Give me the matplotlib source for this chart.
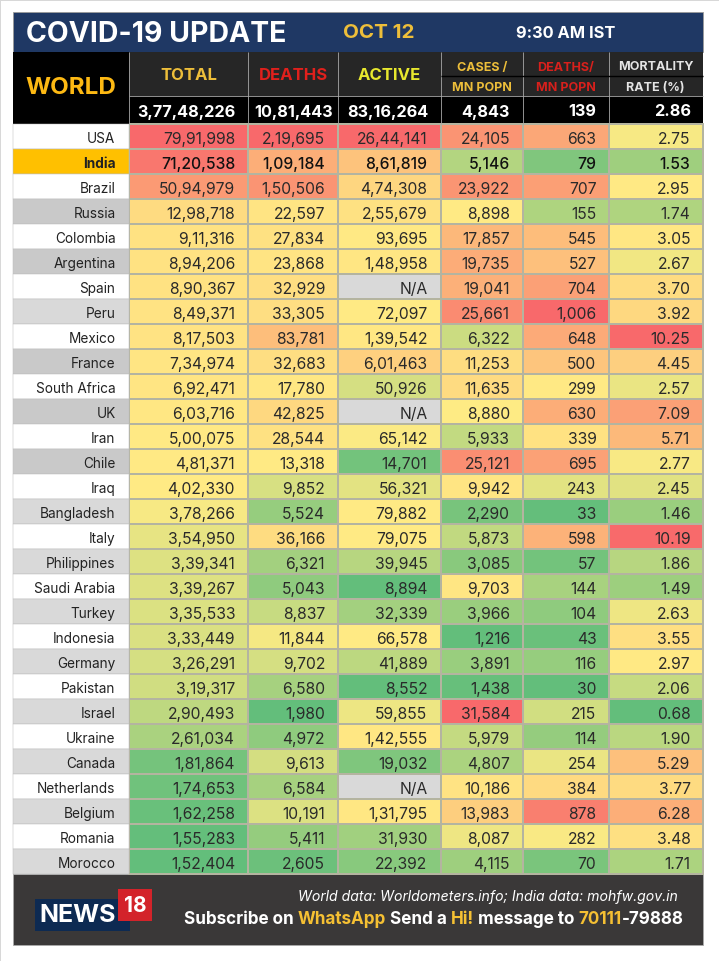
import numpy as np
import matplotlib
matplotlib.use("Agg")
import matplotlib.pyplot as plt
from matplotlib.colors import LinearSegmentedColormap, TwoSlopeNorm
from matplotlib.patches import Rectangle

countries = ["USA","India","Brazil","Russia","Colombia","Argentina","Spain","Peru","Mexico","France",
             "South Africa","UK","Iran","Chile","Iraq","Bangladesh","Italy","Philippines","Saudi Arabia",
             "Turkey","Indonesia","Germany","Pakistan","Israel","Ukraine","Canada","Netherlands","Belgium",
             "Romania","Morocco"]
total = [7991998,7120538,5094979,1298718,911316,894206,890367,849371,817503,734974,692471,603716,500075,
         481371,402330,378266,354950,339341,339267,335533,333449,326291,319317,290493,261034,181864,174653,
         162258,155283,152404]
deaths = [219695,109184,150506,22597,27834,23868,32929,33305,83781,32683,17780,42825,28544,13318,9852,5524,
          36166,6321,5043,8837,11844,9702,6580,1980,4972,9613,6584,10191,5411,2605]
active = [2644141,861819,474308,255679,93695,148958,None,72097,139542,601463,50926,None,65142,14701,56321,
          79882,79075,39945,8894,32339,66578,41889,8552,59855,142555,19032,None,131795,31930,22392]
cases_mn = [24105,5146,23922,8898,17857,19735,19041,25661,6322,11253,11635,8880,5933,25121,9942,2290,5873,
            3085,9703,3966,1216,3891,1438,31584,5979,4807,10186,13983,8087,4115]
deaths_mn = [663,79,707,155,545,527,704,1006,648,500,299,630,339,695,243,33,598,57,144,104,43,116,30,215,114,
             254,384,878,282,70]
mortality = [2.75,1.53,2.95,1.74,3.05,2.67,3.70,3.92,10.25,4.45,2.57,7.09,5.71,2.77,2.45,1.46,10.19,1.86,1.49,
             2.63,3.55,2.97,2.06,0.68,1.90,5.29,3.77,6.28,3.48,1.71]
world_totals = ["3,77,48,226","10,81,443","83,16,264","4,843","139","2.86"]
header_single = ["TOTAL","DEATHS","ACTIVE"]
header_double = [("CASES /","MN POPN"),("DEATHS/","MN POPN"),("MORTALITY","RATE (%)")]
label_shades = ["#FFFFFF","#FFC000","#FFFFFF","#C9C9C9","#FFFFFF","#C9C9C9","#FFFFFF","#D9D9D9","#FFFFFF","#C9C9C9",
                "#FFFFFF","#C9C9C9","#FFFFFF","#C9C9C9","#FFFFFF","#D9D9D9","#FFFFFF","#D9D9D9","#FFFFFF","#D9D9D9",
                "#FFFFFF","#D9D9D9","#FFFFFF","#D9D9D9","#FFFFFF","#D9D9D9","#FFFFFF","#D9D9D9","#FFFFFF","#D9D9D9"]

FONT = ["Inter", "DejaVu Sans"]
plt.rcParams["font.family"] = FONT

W, H = 719, 962
fig = plt.figure(figsize=(W/100, H/100), dpi=100, facecolor="white")
ax = fig.add_axes([0, 0, 1, 1])
ax.set_xlim(0, W); ax.set_ylim(H, 0); ax.axis("off")

col_edges = np.array([129, 248, 338, 441, 522.5, 608.5, 703])
left = 12.5
row_top, row_h = 125.3, 25.0
row_edges = row_top + row_h*np.arange(len(countries)+1)
bottom = row_edges[-1]
grid_c = "#B4B4A0"

# faint image edge
ax.add_patch(Rectangle((0,0), W, 1.5, color="#D8D8D8", lw=0))
ax.add_patch(Rectangle((0,0), 1.2, H, color="#D8D8D8", lw=0))

# heat cells: one three-colour scale per column, centred on the column median
columns = [total, deaths, active, cases_mn, deaths_mn, mortality]
cmap = LinearSegmentedColormap.from_list("rg", ["#63BE7B", "#FFEB84", "#F8696B"])
cmap.set_bad("#D9D9D9")
mat = []
for c in columns:
    v = np.array([np.nan if x is None else x for x in c], float)
    n = TwoSlopeNorm(vmin=np.nanmin(v), vcenter=np.nanmedian(v), vmax=np.nanmax(v))
    mat.append(np.ma.masked_invalid(n(np.ma.masked_invalid(v)).filled(np.nan)))
mat = np.ma.array(mat).T
ax.pcolormesh(col_edges, row_edges, mat, cmap=cmap, vmin=0, vmax=1, edgecolors=grid_c, linewidth=0.35, zorder=2)

def indian(n):
    s = str(n)
    if len(s) <= 3:
        return s
    head, tail = s[:-3], s[-3:]
    parts = []
    while len(head) > 2:
        parts.insert(0, head[-2:]); head = head[:-2]
    if head:
        parts.insert(0, head)
    return ",".join(parts + [tail])

text_right = [235, 325, 427.5, 510, 596.5, 690.5]
for i, name in enumerate(countries):
    y0 = row_edges[i]
    ax.add_patch(Rectangle((left, y0), col_edges[0]-left, row_h, fc=label_shades[i], ec="#BDBDBD", lw=0.35, zorder=2))
    strong = name == "India"
    ax.text(115.5, y0+row_h/2, name, ha="right", va="center_baseline", fontsize=9.8, color="#222222",
            fontweight="bold" if strong else "normal", zorder=3)
    for j, c in enumerate(columns):
        val = c[i]
        if val is None:
            s = "N/A"
        elif j == 5:
            s = f"{val:.2f}"
        else:
            s = indian(val)
        ax.text(text_right[j], y0+row_h/2+0.5, s, ha="right", va="center_baseline", fontsize=11.3,
                color="#111111" if strong else "#2A2A2A", fontweight="medium" if strong else "normal", zorder=3)

# title band
ax.add_patch(Rectangle((left, 12.7), 703-left, 40.6, fc="#1F3864", ec="#9A9A9A", lw=0.6, zorder=1))
ax.text(26, 34, "COVID-19 UPDATE", color="white", fontsize=20.5, fontweight="bold", va="center", ha="left")
ax.text(343, 33, "OCT 12", color="#EDBE3A", fontsize=14.8, fontweight="bold", va="center", ha="left")
ax.text(516, 34, "9:30 AM IST", color="white", fontsize=11.8, fontweight="bold", va="center", ha="left")

# header blocks
head_top, head_mid, head_bot = 53.3, 97.3, row_top
ax.add_patch(Rectangle((left, head_top), col_edges[0]-left, head_bot-head_top, fc="black", lw=0, zorder=1))
ax.add_patch(Rectangle((col_edges[0], head_top), 703-col_edges[0], head_mid-head_top, fc="#262626", lw=0, zorder=1))
ax.add_patch(Rectangle((col_edges[0], head_mid), 703-col_edges[0], head_bot-head_mid, fc="black", lw=0, zorder=1))
ax.vlines(col_edges[:-1], head_top, head_bot, color="#A8A8A8", lw=0.6, zorder=2)
ax.hlines(head_mid, col_edges[0], 703, color="#A8A8A8", lw=0.6, zorder=2)
ax.hlines(77.3, col_edges[3], 703, color="black", lw=1, zorder=2)
ax.text(71, 88, "WORLD", color="#FDB913", fontsize=17.4, fontweight="bold", ha="center", va="center")

single_colors = ["#EDBE3A", "#E0201C", "#E8E82E"]
for j, (t, cl) in enumerate(zip(header_single, single_colors)):
    ax.text((col_edges[j]+col_edges[j+1])/2, 75.5, t, color=cl, fontsize=12, fontweight="bold", ha="center", va="center")
double_colors = ["#EDBE3A", "#D8201C", "#E4E4E4"]
for j, ((a, b), cl) in enumerate(zip(header_double, double_colors)):
    cx = (col_edges[j+3]+col_edges[j+4])/2
    ax.text(cx, 67.5, a, color=cl, fontsize=9, fontweight="bold", ha="center", va="center")
    ax.text(cx, 88, b, color=cl, fontsize=9, fontweight="bold", ha="center", va="center")
total_right = [235, 333, 428, 510, 596.5, 691]
for j, s in enumerate(world_totals):
    ax.text(total_right[j], 112, s, color="white", fontsize=11.7, fontweight="bold", ha="right", va="center")

# footer
foot_top, foot_bot = bottom, 946.3
ax.add_patch(Rectangle((left, foot_top), 703-left, foot_bot-foot_top, fc="#3A3838", ec="#AAAAAA", lw=0.6, zorder=1))
ax.add_patch(Rectangle((35, 900), 95, 32, fc="#0D2A52", lw=0, zorder=2))
ax.add_patch(Rectangle((118, 890), 34, 32, fc="#D3232A", lw=0, zorder=3))
ax.text(39, 916, "NEWS", color="white", fontsize=18, fontweight="bold", ha="left", va="center", zorder=4)
ax.text(135, 906, "18", color="white", fontsize=15, fontweight="bold", ha="center", va="center", zorder=4)
ax.text(678, 897, "World data: Worldometers.info; India data: mohfw.gov.in", color="white", fontsize=10.15,
        style="italic", ha="right", va="center")

fig.canvas.draw()
rend = fig.canvas.get_renderer()
parts = [("Subscribe on ", "white"), ("WhatsApp", "#F5C033"), (" Send a ", "white"), ("Hi!", "#F5C033"),
         (" message to ", "white"), ("70111", "#F5C033"), ("-79888", "white")]
x = 184
for s, cl in parts:
    t = ax.text(x, 920, s.replace(" ", "\u00a0"), color=cl, fontsize=12.3, fontweight="bold", ha="left", va="center")
    x = ax.transData.inverted().transform((t.get_window_extent(rend).x1, 0))[0]

fig.savefig("out.png", dpi=100, facecolor="white")
